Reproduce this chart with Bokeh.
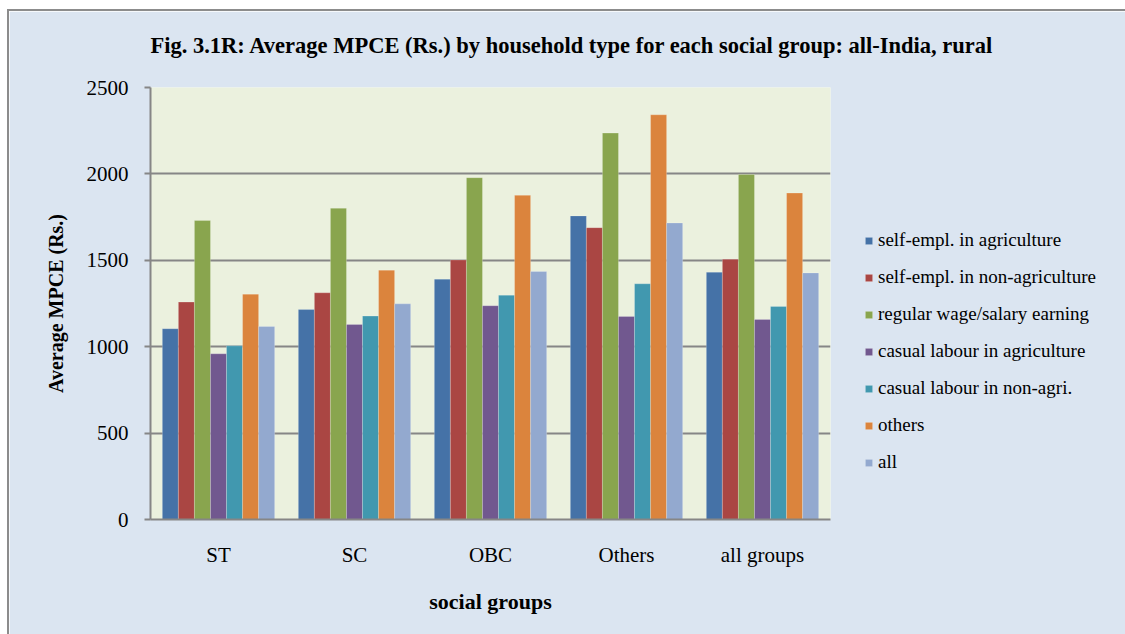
from bokeh.plotting import figure
from bokeh.models import (FactorRange, Range1d, Legend, LegendItem, SingleIntervalTicker,
                          ColumnDataSource, Title)
from bokeh.transform import dodge
from bokeh.embed import file_html
from bokeh.resources import INLINE

groups = ["ST", "SC", "OBC", "Others", "all groups"]
series_names = ["self-empl. in agriculture", "self-empl. in non-agriculture",
                "regular wage/salary earning", "casual labour in agriculture",
                "casual labour in non-agri.", "others", "all"]
self_agri = [1104, 1215, 1391, 1757, 1431]
self_nonagri = [1258, 1312, 1502, 1689, 1506]
regular_wage = [1730, 1801, 1978, 2236, 1997]
casual_agri = [959, 1129, 1237, 1175, 1158]
casual_nonagri = [1005, 1177, 1298, 1364, 1233]
others = [1304, 1443, 1876, 2342, 1889]
all_types = [1117, 1248, 1435, 1716, 1427]
colors = ["#4572A7", "#AA4643", "#89A54E", "#71588F", "#4198AF", "#DB843D", "#93A9CF"]
title_text = "Fig. 3.1R: Average MPCE (Rs.) by household type for each social group: all-India, rural"

all_series = [self_agri, self_nonagri, regular_wage, casual_agri, casual_nonagri, others, all_types]
keys = ["s0", "s1", "s2", "s3", "s4", "s5", "s6"]
data = {"group": groups}
for k, s in zip(keys, all_series):
    data[k] = s
source = ColumnDataSource(data)

FONT = "Liberation Serif"
BG = "#DBE5F1"

p = figure(x_range=FactorRange(*groups), y_range=Range1d(0, 2500),
           frame_width=680, frame_height=432, output_backend="svg", toolbar_location=None,
           min_border_left=141, min_border_right=295, min_border_top=76, min_border_bottom=115)
p.styles = {"border-top": "2px solid #8c8c8c", "border-left": "2px solid #8c8c8c",
            "margin-left": "7px", "margin-top": "9px"}
p.background_fill_color = "#EBF1DE"
p.border_fill_color = BG
p.outline_line_color = None

bw = 0.118
items = []
for i, (k, name, c) in enumerate(zip(keys, series_names, colors)):
    r = p.vbar(x=dodge("group", (i - 3) * bw, range=p.x_range), top=k, width=bw,
               source=source, fill_color=c, line_color="white", line_alpha=0.35, line_width=0.6)
    items.append(LegendItem(label=name, renderers=[r]))

# spacer between frame and title
spacer = Title(text=" ", text_font_size="1px", standoff=27, text_color=BG)
p.add_layout(spacer, "above")
main_title = Title(text=title_text, text_font=FONT, text_font_size="22.5px",
                   text_font_style="bold", align="left", standoff=0, text_color="black")
p.add_layout(main_title, "above")

p.yaxis.ticker = SingleIntervalTicker(interval=500)
p.yaxis.axis_label = "Average MPCE (Rs.)"
p.xaxis.axis_label = "social groups"
for ax in (p.xaxis, p.yaxis):
    ax.axis_label_text_font = FONT
    ax.axis_label_text_font_style = "bold"
    ax.axis_label_text_color = "black"
    ax.major_label_text_font = FONT
    ax.major_label_text_font_size = "21px"
    ax.major_label_text_color = "black"
    ax.axis_line_color = "#868686"
    ax.axis_line_width = 2
    ax.minor_tick_line_color = None
p.yaxis.axis_label_text_font_size = "20px"
p.xaxis.axis_label_text_font_size = "22px"
p.yaxis.major_tick_line_color = "#868686"
p.yaxis.major_tick_line_width = 2
p.yaxis.major_tick_out = 6
p.yaxis.major_tick_in = 0
p.yaxis.major_label_standoff = 16
p.yaxis.axis_label_standoff = 17
p.xaxis.major_tick_line_color = None
p.xaxis.major_label_standoff = 17
p.xaxis.axis_label_standoff = 19
p.xgrid.grid_line_color = None
p.ygrid.grid_line_color = "#868686"
p.ygrid.grid_line_width = 2

legend = Legend(items=items, location=(34, 46), orientation="vertical")
legend.label_text_font = FONT
legend.label_text_font_size = "19px"
legend.label_text_color = "black"
legend.glyph_width = 9
legend.glyph_height = 9
legend.label_standoff = 5
legend.label_height = 20
legend.spacing = 15
legend.padding = 0
legend.margin = 0
legend.background_fill_alpha = 0
legend.border_line_color = None
p.add_layout(legend, "right")

open("out.html", "w").write(file_html(p, INLINE))
